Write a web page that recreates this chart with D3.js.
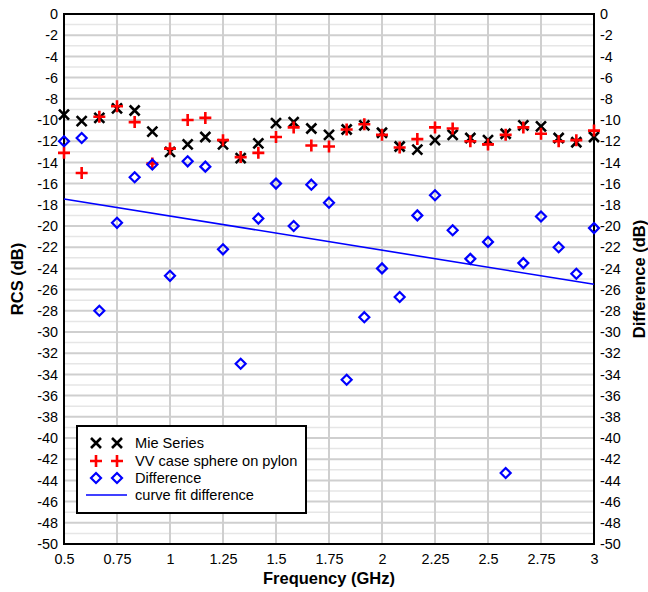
<!DOCTYPE html>
<html><head><meta charset="utf-8">
<script src="https://cdn.jsdelivr.net/npm/d3@7"></script>
<style>body{margin:0;background:#fff}svg{display:block}text{font-family:Arial,"Liberation Sans",sans-serif}</style>
</head><body><svg id="c" width="648" height="592"></svg>
<script>
// Frequencies in GHz (step 1/12 GHz)
const freqs = d3.range(31).map(i => 0.5 + i/12);
const mieSeries = [-9.5,-10.1,-9.8,-8.9,-9.1,-11.1,-13.0,-12.3,-11.6,-12.3,-13.6,-12.2,-10.3,-10.2,-10.8,-11.4,-10.9,-10.5,-11.2,-12.5,-12.8,-11.9,-11.4,-11.7,-11.9,-11.3,-10.5,-10.6,-11.7,-12.1,-11.6];
const vvSeries = [-13.1,-15.0,-9.7,-8.7,-10.2,-14.1,-12.7,-10.0,-9.8,-11.9,-13.5,-13.1,-11.6,-10.7,-12.4,-12.5,-10.9,-10.4,-11.4,-12.6,-11.8,-10.7,-10.8,-12.0,-12.3,-11.4,-10.7,-11.3,-12.0,-11.9,-11.0];
const diffSeries = [-12.0,-11.7,-28.0,-19.7,-15.4,-14.2,-24.7,-13.9,-14.4,-22.2,-33.0,-19.3,-16.0,-20.0,-16.1,-17.8,-34.5,-28.6,-24.0,-26.7,-19.0,-17.1,-20.4,-23.1,-21.5,-43.3,-23.5,-19.1,-22.0,-24.5,-20.2];
const fitFreqs = [0.5, 3.0];
const fitValues = [-17.45, -25.5];
const xTicks = [0.5,0.75,1,1.25,1.5,1.75,2,2.25,2.5,2.75,3];
const yTicks = d3.range(0,-51,-2);
const legendLabels = ["Mie Series","VV case sphere on pylon","Difference","curve fit difference"];

const svg = d3.select("#c");
const L=64, R=594, T=14, B=544;
const x = d3.scaleLinear().domain([0.5,3]).range([L,R]);
const y = d3.scaleLinear().domain([0,-50]).range([T,B]);

// minor gridlines
svg.append("g").selectAll("line").data(d3.range(-1,-50,-2)).join("line")
  .attr("x1",L).attr("x2",R).attr("y1",d=>y(d)).attr("y2",d=>y(d))
  .attr("stroke","#e6e6e6").attr("stroke-width",1.5);
// major gridlines
svg.append("g").selectAll("line").data(yTicks.slice(1,-1)).join("line")
  .attr("x1",L).attr("x2",R).attr("y1",d=>y(d)).attr("y2",d=>y(d))
  .attr("stroke","#cfcfcf").attr("stroke-width",2);
svg.append("g").selectAll("line").data(xTicks.slice(1,-1)).join("line")
  .attr("y1",T).attr("y2",B).attr("x1",d=>x(d)).attr("x2",d=>x(d))
  .attr("stroke","#cfcfcf").attr("stroke-width",2);

// frame
svg.append("rect").attr("x",L).attr("y",T).attr("width",R-L).attr("height",B-T)
  .attr("fill","none").attr("stroke","#000").attr("stroke-width",2);

// axes
const axL = svg.append("g").attr("transform",`translate(${L},0)`).call(d3.axisLeft(y).tickValues(yTicks).tickSize(0).tickPadding(6).tickFormat(d=>d));
const axR = svg.append("g").attr("transform",`translate(${R},0)`).call(d3.axisRight(y).tickValues(yTicks).tickSize(0).tickPadding(6).tickFormat(d=>d));
const axB = svg.append("g").attr("transform",`translate(0,${B})`).call(d3.axisBottom(x).tickValues(xTicks).tickSize(0).tickPadding(10).tickFormat(d=>d));
[axL,axR,axB].forEach(a=>{a.select(".domain").remove();a.selectAll("text").attr("font-size",14.4).attr("fill","#000").attr("font-family","Arial, Liberation Sans, sans-serif");});

// axis titles
svg.append("text").attr("transform",`translate(23,${(T+B)/2}) rotate(-90)`).attr("text-anchor","middle")
  .attr("font-size",16.5).attr("font-weight","bold").text("RCS (dB)");
svg.append("text").attr("transform",`translate(645,${(T+B)/2}) rotate(-90)`).attr("text-anchor","middle")
  .attr("font-size",16.5).attr("font-weight","bold").text("Difference (dB)");
svg.append("text").attr("x",(L+R)/2).attr("y",584).attr("text-anchor","middle")
  .attr("font-size",16.5).attr("font-weight","bold").text("Frequency (GHz)");

// marker helpers
function xMark(g, cx, cy){ const s=5;
  g.append("path").attr("d",`M${cx-s},${cy-s}L${cx+s},${cy+s}M${cx-s},${cy+s}L${cx+s},${cy-s}`).attr("stroke","#000").attr("stroke-width",2.6).attr("fill","none");}
function plusMark(g, cx, cy){ const s=6;
  g.append("path").attr("d",`M${cx-s},${cy}L${cx+s},${cy}M${cx},${cy-s}L${cx},${cy+s}`).attr("stroke","#ff0000").attr("stroke-width",2.6).attr("fill","none");}
function diamond(g, cx, cy){ const s=5;
  g.append("path").attr("d",`M${cx},${cy-s}L${cx+s},${cy}L${cx},${cy+s}L${cx-s},${cy}Z`).attr("stroke","#0000ff").attr("stroke-width",2.2).attr("fill","none");}

const gM = svg.append("g"), gV = svg.append("g"), gD = svg.append("g");
freqs.forEach((f,i)=>{ xMark(gM, x(f), y(mieSeries[i])); });
freqs.forEach((f,i)=>{ plusMark(gV, x(f), y(vvSeries[i])); });
freqs.forEach((f,i)=>{ diamond(gD, x(f), y(diffSeries[i])); });

// curve fit
svg.append("path").datum(fitFreqs.map((f,i)=>[f,fitValues[i]]))
  .attr("d", d3.line().x(d=>x(d[0])).y(d=>y(d[1])))
  .attr("stroke","#0000ff").attr("stroke-width",1.6).attr("fill","none");

// legend
const lg = svg.append("g");
lg.append("rect").attr("x",77).attr("y",426).attr("width",229).attr("height",87)
  .attr("fill","#fff").attr("stroke","#000").attr("stroke-width",2);
const rows=[443,461,478,495];
xMark(lg,96,rows[0]); xMark(lg,117,rows[0]);
plusMark(lg,96,rows[1]); plusMark(lg,117,rows[1]);
diamond(lg,96,rows[2]); diamond(lg,117,rows[2]);
lg.append("line").attr("x1",86).attr("x2",127).attr("y1",rows[3]).attr("y2",rows[3]).attr("stroke","#0000ff").attr("stroke-width",1.6);
legendLabels.forEach((t,i)=>{
  lg.append("text").attr("x",135).attr("y",rows[i]+5).attr("font-size",14.6).text(t);
});
</script></body></html>
